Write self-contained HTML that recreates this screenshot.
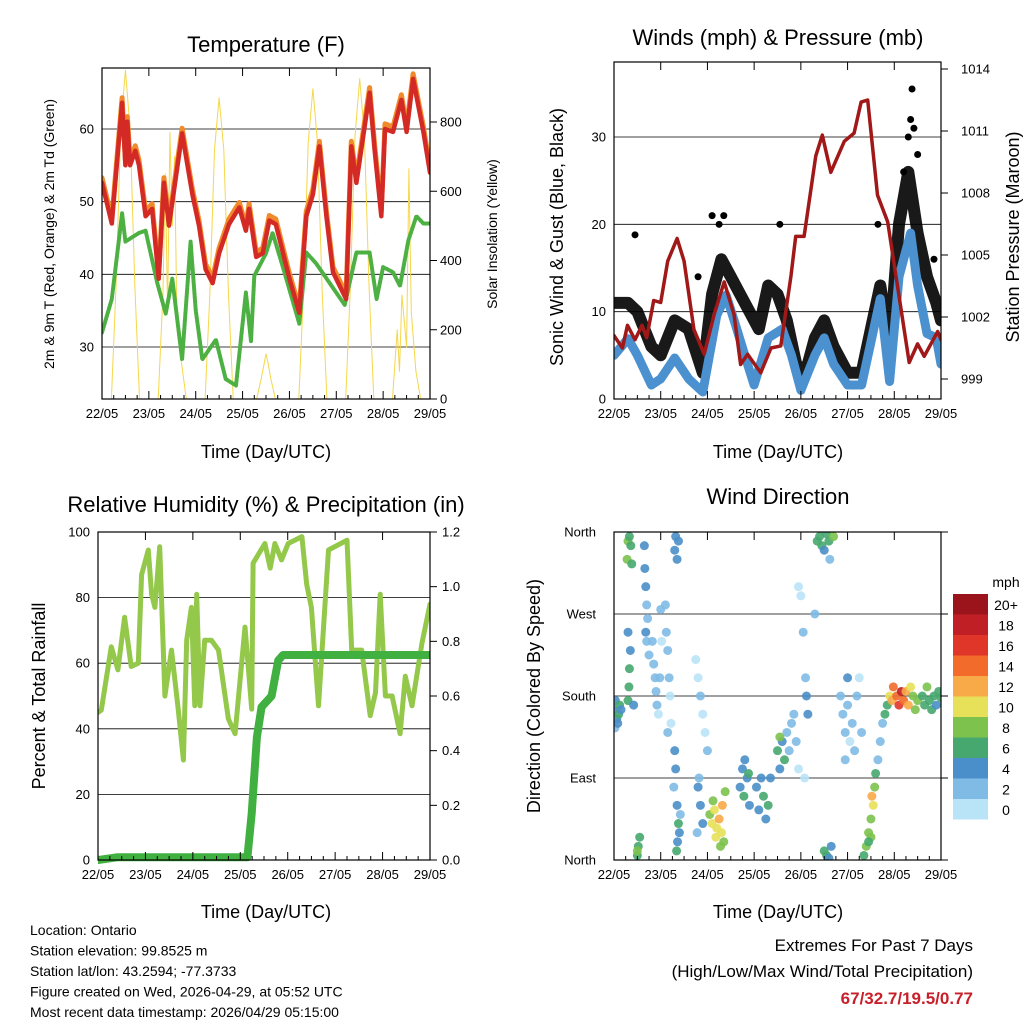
<!DOCTYPE html>
<html><head><meta charset="utf-8"><style>
body{margin:0;background:#fff;}
svg{font-family:"Liberation Sans",sans-serif;}
</style></head><body>
<svg id="s" width="1024" height="1024" viewBox="0 0 1024 1024"></svg>
<script>
// ---- Temperature panel data ----
const tempT=[0,0.21,0.43,0.5,0.54,0.6,0.71,0.79,0.93,1.07,1.21,1.32,1.43,1.71,1.93,2.07,2.21,2.36,2.5,2.71,2.93,3.07,3.14,3.29,3.43,3.57,3.71,4.0,4.21,4.36,4.5,4.64,4.79,4.93,5.21,5.32,5.43,5.71,5.82,5.96,6.04,6.21,6.39,6.5,6.64,6.86,7.0];
const tempV=[52.6,47,63.6,55,61,55,57,55,48,49,39.4,52.6,46.7,59.4,51,46.7,40.7,38.8,42.9,46.9,49.2,46,49,42.4,42.9,47.4,46.9,39.4,34.7,48,51,57.6,48,40.3,36.6,57.6,52.6,65,57,48,60,59.6,64,59.6,66.9,59.6,54];
const tdT=[0,0.21,0.43,0.5,0.79,0.93,1.18,1.36,1.5,1.71,1.89,2.0,2.14,2.43,2.64,2.86,3.07,3.18,3.25,3.5,3.64,3.86,4.21,4.36,4.57,4.86,5.18,5.43,5.71,5.86,6.0,6.21,6.36,6.54,6.71,6.86,7.0];
const tdV=[32,36.6,48.4,44.5,45.7,46,38.8,34.6,39.4,28.3,44.5,35.1,28.3,31,25.6,24.7,37.5,30.8,39.8,42.9,45.7,41,33.2,43,41.5,38.8,35.8,43,43,36.6,41,40.3,38.4,44.7,48,47,47];
const solT=[0,0.2,0.3,0.4,0.5,0.6,0.7,0.8,1.2,1.3,1.35,1.4,1.45,1.5,1.55,1.6,1.7,1.8,2.2,2.3,2.4,2.5,2.6,2.7,2.8,3.3,3.4,3.5,3.55,3.6,3.7,4.2,4.3,4.4,4.5,4.6,4.7,4.8,5.2,5.3,5.4,5.5,5.6,5.7,5.8,6.2,6.3,6.35,6.4,6.5,6.55,6.6,6.7,6.8,7.0];
const solV=[0,0,330,780,950,780,330,0,0,300,650,250,770,500,700,200,100,0,0,300,720,870,720,300,0,0,60,130,100,60,0,0,310,740,896,740,310,0,0,320,760,925,760,320,0,0,200,80,300,150,665,250,80,0,0];
// ---- Wind panel data ----
const windT=[0,0.3,0.5,0.8,1.0,1.3,1.6,1.9,2.2,2.4,2.6,2.8,3.0,3.3,3.6,3.8,4.0,4.3,4.5,4.7,5.0,5.3,5.5,5.7,5.9,6.1,6.35,6.5,6.7,6.9,7.0];
const windV=[5,6.9,5,1.6,2.3,4.7,2.3,0.8,9.6,11.9,8.5,5,1.6,7,8,5,1,5,7,4,1.6,1.6,6.5,11.5,2,14,19,13,7.5,7,4];
const gustT=[0,0.3,0.5,0.8,1.0,1.3,1.6,1.9,2.1,2.3,2.5,2.7,2.9,3.1,3.3,3.5,3.7,3.9,4.1,4.3,4.5,4.7,5.0,5.3,5.5,5.7,5.9,6.1,6.3,6.5,6.7,6.9,7.0];
const gustV=[11,11,10,6,5,9,8,3,12,16,14,12,10,8,13,12,9,4,3,7,9,6,3,3,8,13,6,20,26,19,14,11,9];
const gustPeakT=[0.45,1.8,2.1,2.25,2.35,3.55,5.65,6.2,6.3,6.35,6.38,6.42,6.5,6.85];
const gustPeakV=[18.8,14,21,20,21,20,20,26,30,32,35.5,31,28,16];
const presT=[0,0.18,0.29,0.45,0.6,0.7,0.85,1.0,1.15,1.35,1.5,1.71,1.93,2.14,2.36,2.57,2.71,2.86,3.14,3.36,3.57,3.79,3.89,4.07,4.32,4.46,4.64,4.93,5.14,5.29,5.43,5.64,5.86,6.04,6.32,6.5,6.64,6.93,7.0];
const presV=[1001.1,1000.5,1001.6,1000.9,1001.6,1001,1002.8,1002.7,1004.7,1005.8,1004.7,1001.4,1000.2,1002.1,1003.7,1002.1,999.7,1000.2,999.3,1000.5,1000.6,1004,1005.9,1005.9,1009.8,1010.8,1009,1010.5,1010.9,1012.4,1012.5,1007.9,1006.6,1003.9,999.8,1000.7,1000.1,1001.3,1000.9];
// ---- RH / precipitation ----
const rhT=[0,0.07,0.28,0.42,0.56,0.7,0.85,0.92,1.06,1.13,1.2,1.3,1.41,1.55,1.69,1.8,1.87,1.97,2.04,2.08,2.15,2.25,2.39,2.54,2.75,2.89,3.1,3.24,3.27,3.52,3.63,3.73,3.87,4.01,4.3,4.4,4.5,4.65,4.86,5.25,5.35,5.56,5.74,5.85,5.95,6.06,6.2,6.37,6.48,6.62,6.83,7.0];
const rhV=[45,45.7,65,58,74,59,60,87,94.5,81,77,95.5,50,64,46,30.5,67,77,47,81,47,67,67,64,43,38.5,71,46,90.5,96.5,89,96.5,91.5,96.5,98.6,84,77,47,94.5,97.5,64,64,44,51,81,50,50,38.5,56,47,66,78];
const prT=[0,0.4,3.15,3.24,3.35,3.45,3.66,3.8,3.9,7.0];
const prV=[0,0.01,0.01,0.17,0.45,0.56,0.6,0.73,0.75,0.75];
// ---- Wind direction samples ----
const dirT=[0.0,0.03,0.06,0.1,0.12,0.15,0.02,0.08,0.3,0.32,0.33,0.35,0.3,0.28,0.3,0.33,0.36,0.38,0.42,0.65,0.66,0.68,0.7,0.72,0.68,0.7,0.75,0.82,0.85,0.88,0.9,0.92,0.95,0.98,1.0,1.02,0.5,0.52,0.55,0.5,1.3,1.32,1.35,1.38,1.3,1.32,1.35,1.38,1.36,1.34,1.28,1.4,1.42,1.1,1.12,1.15,1.18,1.2,1.22,1.15,1.75,1.8,1.85,1.9,1.95,2.0,1.8,1.85,1.9,1.78,1.82,2.05,2.1,2.15,2.2,2.25,2.3,2.35,2.32,2.18,2.28,2.38,2.12,2.7,2.75,2.8,2.85,2.9,2.78,2.88,3.05,3.1,3.15,3.2,3.25,3.3,3.35,3.5,3.55,3.6,3.7,3.75,3.8,3.85,3.9,3.95,3.65,3.55,3.95,4.0,4.05,4.1,4.15,4.12,4.08,4.3,4.35,4.4,4.45,4.5,4.55,4.6,4.62,4.7,4.5,4.55,4.6,4.65,4.85,4.9,4.95,5.0,5.05,5.1,5.15,5.2,5.25,5.3,5.0,4.95,5.35,5.4,5.45,5.5,5.55,5.58,5.6,5.5,5.45,5.52,5.65,5.7,5.75,5.8,5.85,5.9,5.95,5.98,6.05,6.1,6.15,6.2,6.25,6.3,6.35,6.4,6.45,6.5,6.6,6.65,6.7,6.75,6.8,6.85,6.9,6.95,7.0];
const dirD=[165,175,155,160,170,165,145,150,175,190,210,230,250,330,350,355,345,325,170,345,320,300,280,265,250,240,225,240,215,200,185,170,160,200,275,240,5,15,25,10,340,355,330,350,120,100,60,40,20,10,80,30,50,280,250,230,200,180,150,140,220,200,180,160,140,120,80,60,40,30,90,50,40,55,35,45,30,20,60,25,15,75,65,80,100,110,90,60,70,95,80,55,90,70,45,60,90,120,100,130,140,120,150,160,130,100,110,135,300,290,250,200,160,180,90,270,350,355,345,340,358,350,330,355,10,5,2,15,180,160,140,170,130,150,120,180,200,140,200,110,5,15,30,45,60,80,95,25,20,70,110,130,150,160,170,180,175,190,180,170,185,175,185,170,190,180,165,175,180,170,190,175,165,180,170,185,178];
const dirS=[4,5,4,6,6,5,3,4,6,7,6,5,4,8,9,7,6,7,4,5,4,4,3,3,4,3,2,2,2,2,3,2,1,2,2,1,6,7,7,8,4,4,5,4,4,5,5,6,5,6,3,4,3,2,2,2,2,1,1,2,1,1,2,1,1,2,4,4,4,3,3,8,10,11,11,12,10,9,12,10,9,8,9,4,5,4,4,5,6,6,4,4,5,6,4,6,4,6,4,5,3,2,2,3,2,1,7,8,1,1,2,3,4,4,1,2,6,6,6,5,6,6,3,8,6,6,5,4,2,2,2,2,1,2,3,2,1,2,4,2,7,8,8,8,10,8,6,8,7,12,2,2,2,6,6,10,12,14,14,16,18,14,12,12,10,8,8,8,6,6,8,6,6,6,4,6,6];
// ---- Colorbar ----
const cbLabels=["20+","18","16","14","12","10","8","6","4","2","0"];
const cbColors=["#9b141c","#c11f26","#e0362a","#f26b2a","#f8a948","#e7e159","#7cc24d","#46a86e","#4a8fc9","#80bbe6","#b9e3f7"];

const S=document.getElementById('s');
const NS='http://www.w3.org/2000/svg';
function el(tag,attrs,parent,txt){const e=document.createElementNS(NS,tag);for(const k in attrs)e.setAttribute(k,attrs[k]);if(txt!==undefined)e.textContent=txt;(parent||S).appendChild(e);return e;}
function lin(d0,d1,r0,r1){return v=>r0+(v-d0)*(r1-r0)/(d1-d0);}
function poly(xs,ys,fx,fy,stroke,w,name,g){const p=xs.map((t,i)=>fx(t).toFixed(1)+','+fy(ys[i]).toFixed(1)).join(' ');const e=el('polyline',{points:p,fill:'none',stroke:stroke,'stroke-width':w,'stroke-linejoin':'round','stroke-linecap':'round'},g);return e;}
function txt(x,y,s,size,anchor,name,extra){const e=el('text',Object.assign({x:x,y:y,'font-size':size,'text-anchor':anchor||'middle',fill:'#000'},extra||{}),S,s);return e;}
const days=["22/05","23/05","24/05","25/05","26/05","27/05","28/05","29/05"];
function frame(name){const g=el('g',{});return g;}
function xaxis(g,fx,y1,y0){days.forEach((d,i)=>{const x=fx(i);el('line',{x1:x,x2:x,y1:y1,y2:y1-8,stroke:'#000'},g);el('line',{x1:x,x2:x,y1:y0,y2:y0+8,stroke:'#000'},g);for(let k=1;k<4&&i<7;k++){const xm=fx(i+k/4);el('line',{x1:xm,x2:xm,y1:y1,y2:y1-4,stroke:'#000'},g);}
const t=el('text',{x:x,y:y1+19,'font-size':13,'text-anchor':'middle'},g,d);});}
function box(g,x0,x1,y0,y1){el('rect',{x:x0,y:y0,width:x1-x0,height:y1-y0,fill:'none',stroke:'#000','stroke-width':1.2},g);}
function ylab(g,x,y,s,anchor){const t=el('text',{x:x,y:y+4.5,'font-size':13,'text-anchor':anchor},g,s);}
function grid(g,x0,x1,y){el('line',{x1:x0,x2:x1,y1:y,y2:y,stroke:'#000','stroke-width':0.8},g);}
function rot(x,y,s,size,name){txt(x,y,s,size,'middle',name,{transform:`rotate(-90 ${x} ${y})`});}
function clip(id,x0,y0,x1,y1){const d=el('defs',{});const c=el('clipPath',{id:id},d);el('rect',{x:x0,y:y0,width:x1-x0,height:y1-y0},c);}

// ===== Panel 1 Temperature =====
(function(){const x0=102,x1=430,y0=68,y1=399;const g=frame('temperature-panel');clip('c1',x0,y0,x1,y1);
const fx=lin(0,7,x0,x1),fy=lin(30,60,347,129),fs=lin(0,800,399,122);
[30,40,50,60].forEach(v=>{grid(g,x0,x1,fy(v));ylab(g,x0-8,fy(v),v,'end');});
[0,200,400,600,800].forEach(v=>{el('line',{x1:x1,x2:x1+7,y1:fs(v),y2:fs(v),stroke:'#000'},g);ylab(g,x1+10,fs(v),v,'start');});
const d=el('g',{'clip-path':'url(#c1)'},g);
poly(solT,solV,fx,fs,'#f5d74a',1,'solar-insolation-line',d);
const gd=poly(tdT,tdV,fx,fy,'#4db043',4,'dewpoint-line',d);gd.setAttribute('stroke-dasharray','2.5 1.5');
poly(tempT,tempV.map(v=>v+0.7),fx,fy,'#f08a2a',5,'temp-9m-line',d);
poly(tempT,tempV,fx,fy,'#d42a25',4.5,'temp-2m-line',d);
box(g,x0,x1,y0,y1);xaxis(g,fx,y1,y0);
txt(266,52,'Temperature (F)',22,'middle','temperature-title');
txt(266,458,'Time (Day/UTC)',18,'middle','x-axis-title');
rot(54,234,'2m & 9m T (Red, Orange) & 2m Td (Green)',14,'y-axis-title');
rot(497,234,'Solar Insolation (Yellow)',14,'y2-axis-title');})();

// ===== Panel 2 Winds =====
(function(){const x0=614,x1=941,y0=62,y1=399;const g=frame('winds-panel');clip('c2',x0,y0,x1,y1);
const fx=lin(0,7,x0,x1),fy=lin(0,30,399,137),fp=lin(999,1014,379,69);
[10,20,30].forEach(v=>grid(g,x0,x1,fy(v)));
[0,10,20,30].forEach(v=>ylab(g,x0-8,fy(v),v,'end'));
[999,1002,1005,1008,1011,1014].forEach(v=>{el('line',{x1:x1,x2:x1+7,y1:fp(v),y2:fp(v),stroke:'#000'},g);ylab(g,x1+20,fp(v),v,'start');});
const d=el('g',{'clip-path':'url(#c2)'},g);
const gb=poly(gustT,gustV,fx,fy,'#000',12,'gust-band',d);gb.setAttribute('opacity','0.9');
gustPeakT.forEach((t,i)=>{const c=el('circle',{cx:fx(t),cy:fy(gustPeakV[i]),r:3.5,fill:'#000'},d);});
poly(windT,windV,fx,fy,'#4b91cf',9,'wind-line',d);
poly(presT,presV,fx,fp,'#a01818',3.5,'pressure-line',d);
box(g,x0,x1,y0,y1);xaxis(g,fx,y1,y0);
txt(778,45,'Winds (mph) & Pressure (mb)',22,'middle','winds-title');
txt(778,458,'Time (Day/UTC)',18,'middle','x-axis-title');
rot(563,237,'Sonic Wind & Gust (Blue, Black)',18,'y-axis-title');
rot(1019,237,'Station Pressure (Maroon)',18,'y2-axis-title');})();

// ===== Panel 3 RH =====
(function(){const x0=98,x1=430,y0=532,y1=860;const g=frame('humidity-panel');clip('c3',x0,y0-5,x1,y1+5);
const fx=lin(0,7,x0,x1),fy=lin(0,100,860,532),fr=lin(0,1.2,860,532);
[0,20,40,60,80,100].forEach(v=>{if(v>0&&v<100)grid(g,x0,x1,fy(v));ylab(g,x0-8,fy(v),v,'end');});
[0,0.2,0.4,0.6,0.8,1.0,1.2].forEach(v=>{el('line',{x1:x1,x2:x1+7,y1:fr(v),y2:fr(v),stroke:'#000'},g);ylab(g,x1+12,fr(v),v.toFixed(1),'start');});
const d=el('g',{'clip-path':'url(#c3)'},g);
poly(rhT,rhV,fx,fy,'#93c84a',5,'humidity-line',d);
poly(prT,prV,fx,fr,'#40b040',8,'precip-line',d);
box(g,x0,x1,y0,y1);xaxis(g,fx,y1,y0);
txt(266,512,'Relative Humidity (%) & Precipitation (in)',22,'middle','humidity-title');
txt(266,918,'Time (Day/UTC)',18,'middle','x-axis-title');
rot(45,696,'Percent & Total Rainfall',18,'y-axis-title');})();

// ===== Panel 4 Wind Direction =====
(function(){const x0=614,x1=941,y0=532,y1=860;const g=frame('wind-direction-panel');clip('c4',x0,y0,x1,y1);
const fx=lin(0,7,x0,x1),fy=lin(0,360,860,532);
[["North",360],["West",270],["South",180],["East",90],["North",0]].forEach(a=>{if(a[1]>0&&a[1]<360)grid(g,x0,x1,fy(a[1]));el('line',{x1:x1,x2:x1+7,y1:fy(a[1]),y2:fy(a[1]),stroke:'#000'},g);ylab(g,x0-18,fy(a[1]),a[0],'end');});
const d=el('g',{'clip-path':'url(#c4)'},g);
dirT.forEach((t,i)=>{const ci=Math.max(0,Math.min(10,Math.floor(dirS[i]/2)));const c=el('circle',{cx:fx(t),cy:fy(dirD[i]),r:4.5,fill:cbColors[10-ci],opacity:0.9},d);});
box(g,x0,x1,y0,y1);xaxis(g,fx,y1,y0);
txt(778,504,'Wind Direction',22,'middle','direction-title');
txt(778,918,'Time (Day/UTC)',18,'middle','x-axis-title');
rot(540,696,'Direction (Colored By Speed)',18,'y-axis-title');
const lg=el('g',{});
cbColors.forEach((c,i)=>{el('rect',{x:953,y:594+i*20.5,width:35,height:20.5,fill:c},lg);const t=el('text',{x:1006,y:610+i*20.5,'font-size':14,'text-anchor':'middle'},lg,cbLabels[i]);});
txt(1006,587,'mph',14,'middle','colorbar-title');})();

// ===== footer text =====
["Location: Ontario","Station elevation: 99.8525 m","Station lat/lon: 43.2594; -77.3733","Figure created on Wed, 2026-04-29, at 05:52 UTC","Most recent data timestamp: 2026/04/29 05:15:00"].forEach((s,i)=>txt(30,935+i*20.5,s,14,'start','station-info'));
txt(973,951,'Extremes For Past 7 Days',17,'end','extremes-title');
txt(973,977,'(High/Low/Max Wind/Total Precipitation)',17,'end','extremes-subtitle');
txt(973,1004,'67/32.7/19.5/0.77',17,'end','extremes-values',{fill:'#c8202a','font-weight':'bold'});
</script>
</body></html>
